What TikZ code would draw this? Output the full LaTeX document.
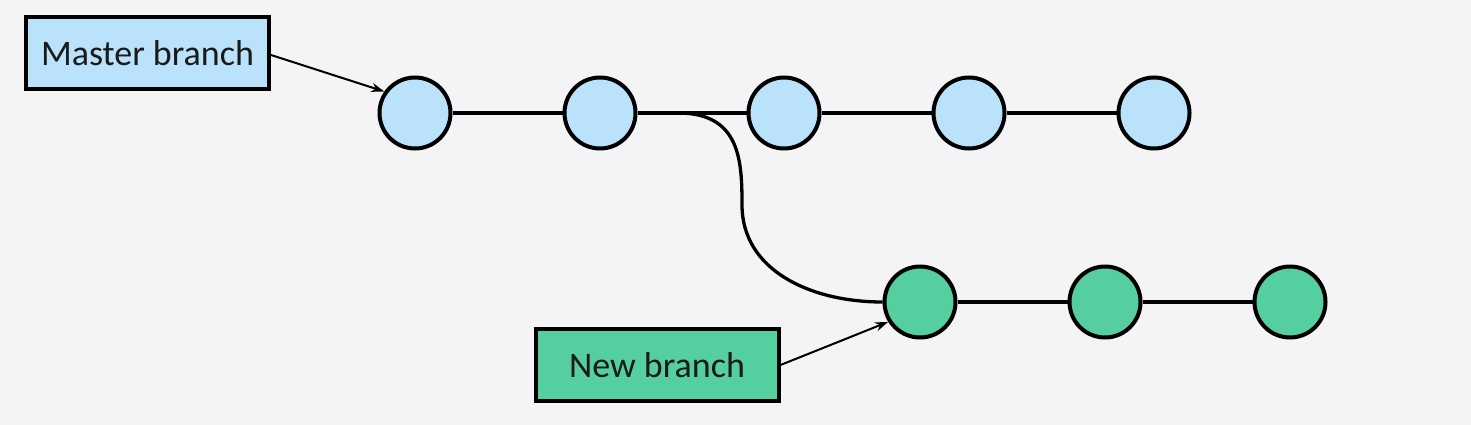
\documentclass[tikz,border=0pt]{standalone}
\usepackage{fontspec}
\setmainfont{Carlito}
\usetikzlibrary{arrows.meta}
\definecolor{bgc}{HTML}{F4F4F6}
\definecolor{blu}{HTML}{BBE2FB}
\definecolor{grn}{HTML}{55CFA0}
\definecolor{txt}{HTML}{1A1A1A}
\begin{document}
\begin{tikzpicture}[x=1pt,y=-1pt,
  commit/.style={circle,draw=black,line width=4pt,minimum size=71pt,inner sep=0pt},
  mc/.style={commit,fill=blu},
  nc/.style={commit,fill=grn},
  label box/.style={rectangle,draw=black,line width=4pt,minimum width=243pt,minimum height=72pt,inner sep=0pt,font=\fontsize{36}{42}\selectfont,text=txt},
  link/.style={line width=3.3pt},
  pointer/.style={line width=2pt,-{Stealth[length=13pt,width=9pt]}}]
\fill[bgc] (0,0) rectangle (1471,425);
\useasboundingbox (0,0) rectangle (1471,425);
\node[label box,fill=blu] (mb) at (147.5,53) {Master branch};
\node[label box,fill=grn] (nb) at (657,365) {New branch};
\node[mc] (m1) at (415,113) {};
\node[mc] (m2) at (600,113) {};
\node[mc] (m3) at (784,113) {};
\node[mc] (m4) at (969,113) {};
\node[mc] (m5) at (1154,113) {};
\node[nc] (n1) at (920,302) {};
\node[nc] (n2) at (1105,302) {};
\node[nc] (n3) at (1290,302) {};
\coordinate (fork) at (678,113);
\draw[link] (m1) -- (m2);
\draw[link] (m2) -- (m3);
\draw[link] (m3) -- (m4);
\draw[link] (m4) -- (m5);
\draw[link] (n1) -- (n2);
\draw[link] (n2) -- (n3);
\draw[link] (fork) .. controls (740,113) and (742,160) .. (742,205) .. controls (742,270) and (810,302) .. (n1.west);
\draw[pointer] (mb.east) ++(0,2) -- (m1.145);
\draw[pointer] (nb.east) -- (n1.212);
\end{tikzpicture}
\end{document}
